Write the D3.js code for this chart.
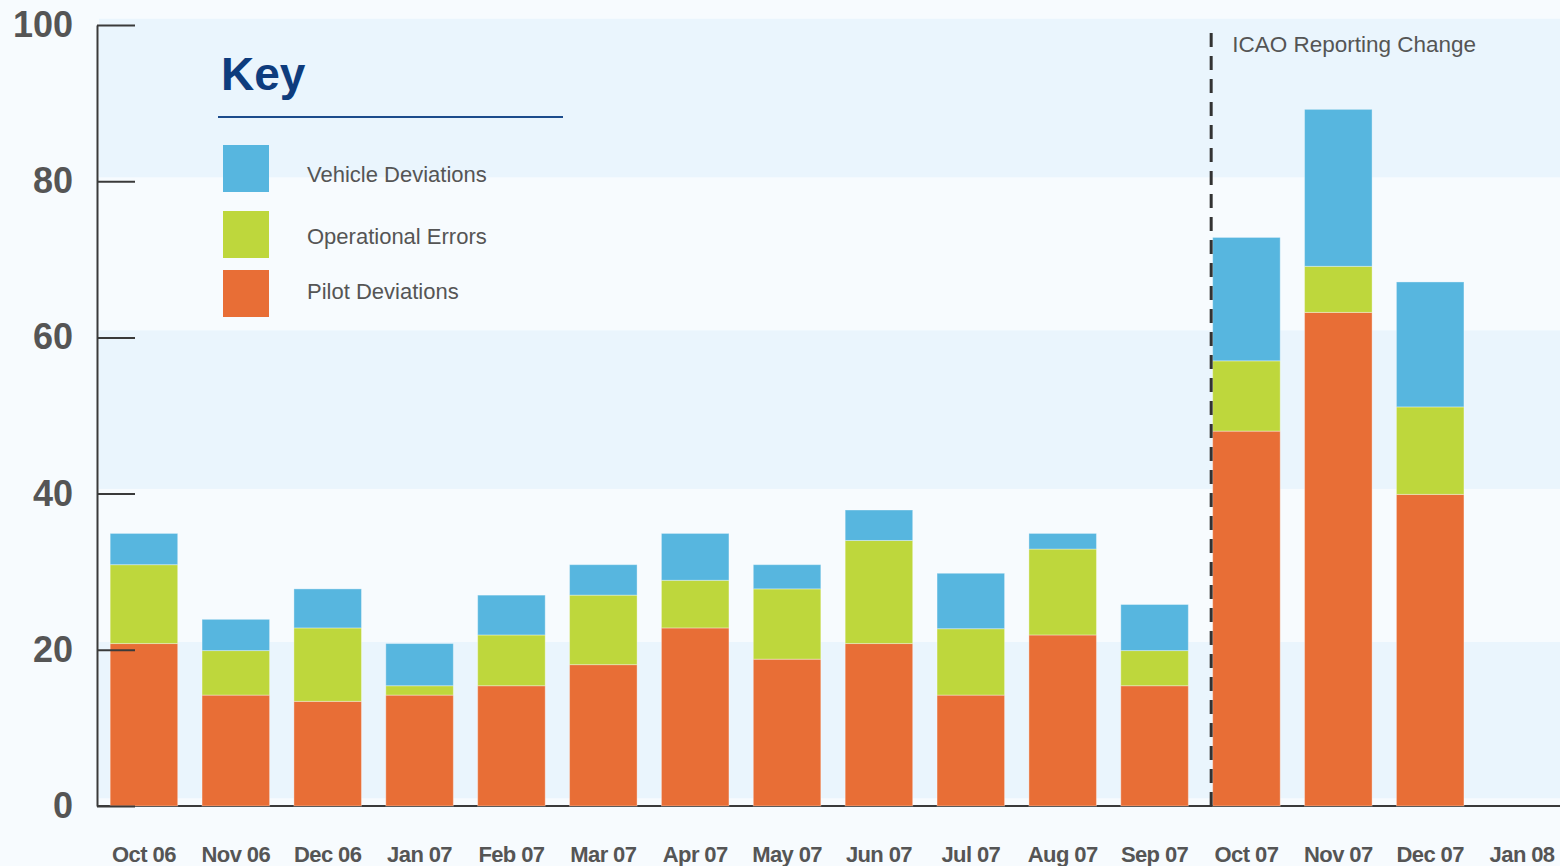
<!DOCTYPE html>
<html>
<head>
<meta charset="utf-8">
<script src="https://cdn.jsdelivr.net/npm/d3@7"></script>
<style>
  html, body { margin: 0; padding: 0; background: #f7fbfe; }
  svg { display: block; font-family: "Liberation Sans", Arial, sans-serif; }
</style>
</head>
<body>
<svg id="chart" width="1560" height="866"></svg>
<script>
// data
const months = ["Oct 06", "Nov 06", "Dec 06", "Jan 07", "Feb 07", "Mar 07", "Apr 07", "May 07",
  "Jun 07", "Jul 07", "Aug 07", "Sep 07", "Oct 07", "Nov 07", "Dec 07", "Jan 08"];
const pilotDeviations = [20.8, 14.2, 13.4, 14.2, 15.4, 18.1, 22.8, 18.8, 20.8, 14.2, 21.9, 15.4, 48.0, 63.2, 39.9, null];
const operationalErrors = [10.1, 5.7, 9.4, 1.2, 6.5, 8.9, 6.1, 9.0, 13.2, 8.5, 11.0, 4.5, 9.0, 5.9, 11.2, null];
const vehicleDeviations = [4.0, 4.0, 5.0, 5.4, 5.1, 3.9, 6.0, 3.1, 3.9, 7.1, 2.0, 5.9, 15.8, 20.1, 16.0, null];
const yTicks = [0, 20, 40, 60, 80, 100];
const bandRanges = [[80.5, 100.8], [40.6, 60.9], [1.0, 21.0]];
const markerMonth = "Oct 07";
const markerLabel = "ICAO Reporting Change";

const seriesKeys = ["pilot", "ops", "vehicle"];
const seriesNames = { vehicle: "Vehicle Deviations", ops: "Operational Errors", pilot: "Pilot Deviations" };
const colors = { pilot: "#e86e36", ops: "#bed73c", vehicle: "#57b6df" };

const rows = months.map((m, i) => ({
  month: m,
  pilot: pilotDeviations[i] || 0,
  ops: operationalErrors[i] || 0,
  vehicle: vehicleDeviations[i] || 0
}));

const svg = d3.select("#chart");
const width = 1560;

const x = d3.scaleBand().domain(months).range([98, 1568]).paddingInner(0.265).paddingOuter(0.1325);
const y = d3.scaleLinear().domain([0, 100]).range([806, 25]);

// background bands
svg.append("g").selectAll("rect")
  .data(bandRanges)
  .join("rect")
  .attr("x", 99)
  .attr("width", width - 99)
  .attr("y", d => y(d[1]))
  .attr("height", d => y(d[0]) - y(d[1]))
  .attr("fill", "#eaf5fd");

// bottom axis line
svg.append("line")
  .attr("x1", 97).attr("x2", width)
  .attr("y1", y(0)).attr("y2", y(0))
  .attr("stroke", "#3a3a3a").attr("stroke-width", 2);

// stacked bars
const stacked = d3.stack().keys(seriesKeys)(rows);
svg.append("g").selectAll("g")
  .data(stacked)
  .join("g")
  .attr("fill", d => colors[d.key])
  .selectAll("rect")
  .data(d => d.filter(p => p[1] > p[0]))
  .join("rect")
  .attr("x", d => x(d.data.month))
  .attr("width", x.bandwidth())
  .attr("y", d => y(d[1]))
  .attr("height", d => y(d[0]) - y(d[1]))
  .attr("stroke", "rgba(255,255,255,0.35)")
  .attr("stroke-width", 1);

// y axis
const yAxis = svg.append("g")
  .attr("transform", "translate(97,0)")
  .call(d3.axisLeft(y).tickValues(yTicks).tickSizeInner(-38).tickSizeOuter(0).tickPadding(24));
yAxis.select(".domain").attr("stroke", "#3a3a3a").attr("stroke-width", 2);
yAxis.selectAll(".tick line").attr("stroke", "#3a3a3a").attr("stroke-width", 2);
yAxis.selectAll(".tick text")
  .attr("font-family", "Liberation Sans, Arial, sans-serif")
  .attr("font-size", 36).attr("font-weight", "bold")
  .attr("fill", "#555");

// x axis labels
const xAxis = svg.append("g")
  .attr("transform", `translate(0,${y(0)})`)
  .call(d3.axisBottom(x).tickSize(0).tickPadding(40));
xAxis.select(".domain").remove();
xAxis.selectAll(".tick text")
  .attr("font-family", "Liberation Sans, Arial, sans-serif")
  .attr("font-size", 22).attr("font-weight", "bold")
  .attr("letter-spacing", -0.6)
  .attr("fill", "#555");

// reporting change marker
const mx = x(markerMonth) - 1.5;
svg.append("line")
  .attr("x1", mx).attr("x2", mx)
  .attr("y1", 33).attr("y2", y(0))
  .attr("stroke", "#333").attr("stroke-width", 3)
  .attr("stroke-dasharray", "14,9");
svg.append("text")
  .attr("x", mx + 21).attr("y", 52)
  .attr("font-size", 22.5).attr("fill", "#555")
  .text(markerLabel);

// legend
const legend = svg.append("g");
legend.append("text")
  .attr("x", 221).attr("y", 90)
  .attr("font-size", 46).attr("font-weight", "bold")
  .attr("fill", "#0e3c7d")
  .text("Key");
legend.append("line")
  .attr("x1", 218).attr("x2", 563)
  .attr("y1", 117).attr("y2", 117)
  .attr("stroke", "#1c4c8c").attr("stroke-width", 2);

const legendItems = [
  { key: "vehicle", top: 145, base: 182 },
  { key: "ops", top: 211, base: 244 },
  { key: "pilot", top: 270, base: 299 }
];
legend.selectAll("rect.sw")
  .data(legendItems)
  .join("rect")
  .attr("class", "sw")
  .attr("x", 223).attr("width", 46)
  .attr("y", d => d.top).attr("height", 47)
  .attr("fill", d => colors[d.key]);
legend.selectAll("text.lab")
  .data(legendItems)
  .join("text")
  .attr("class", "lab")
  .attr("x", 307).attr("y", d => d.base)
  .attr("font-size", 22).attr("fill", "#555")
  .text(d => seriesNames[d.key]);
</script>
</body>
</html>
